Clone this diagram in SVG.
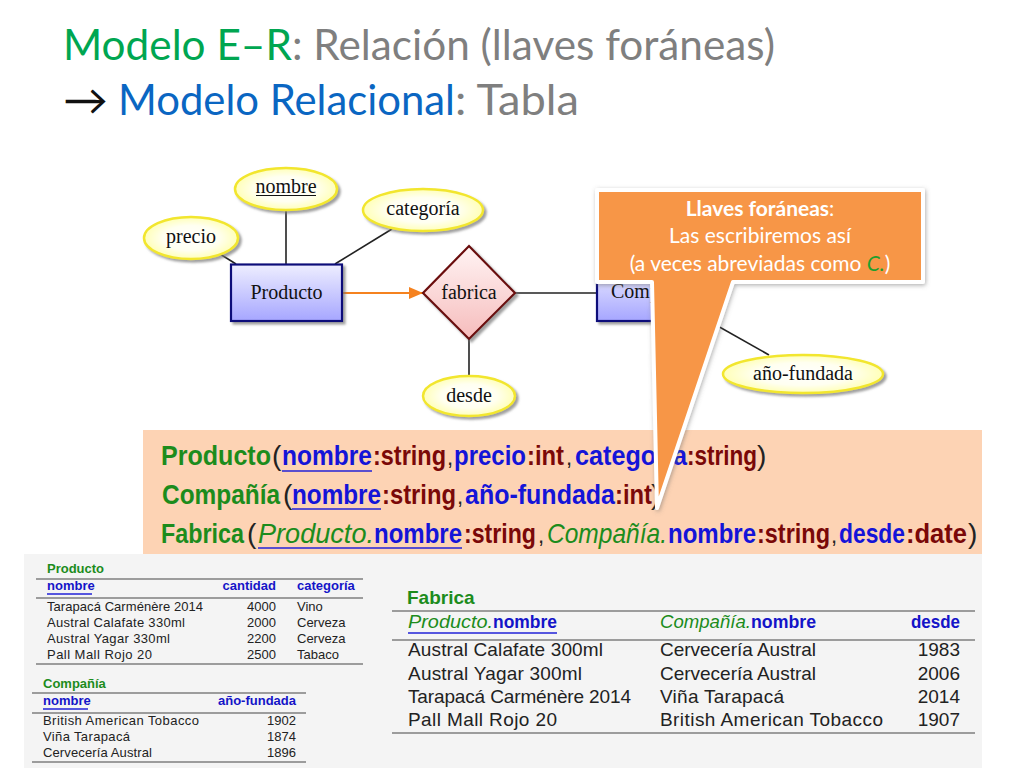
<svg xmlns="http://www.w3.org/2000/svg" width="1024" height="768" viewBox="0 0 1024 768">
<style>
text{font-family:"Liberation Sans",Arial,sans-serif}
.t{font-family:Lato,"Noto Sans",sans-serif;font-size:42px}
.cm{font-family:"Liberation Serif","Times New Roman",serif;fill:#111;text-anchor:middle;font-size:20px}
.attr{fill:url(#ey);stroke:#f2e62e;stroke-width:2.5;filter:url(#sh)}
.ln{stroke:#222;stroke-width:1.6;fill:none}
.g{fill:#1c8c1c}.gi{fill:#1c8c1c;font-style:italic}.b{fill:#1414d8;font-weight:bold}.r{fill:#7a0808;font-weight:bold}.k{fill:#222}
.p{font-size:28px}.par{font-size:28px}.cma{font-size:22px}
.ttl{fill:#1c8c1c;font-weight:bold}.hd{fill:#1414c8;font-weight:bold}.row{fill:#222}
.s{font-size:13px}.s2{font-size:19px}
.rule{stroke:#444;stroke-width:1.2}.ul{stroke:#2222d8;stroke-width:1.3}
.end{text-anchor:end}
.c{font-family:Lato,"Noto Sans",sans-serif;font-size:21px;fill:#fff;text-anchor:middle}
</style>
<defs>
<radialGradient id="ey"><stop offset="0" stop-color="#fff"/><stop offset="0.6" stop-color="#fffff0"/><stop offset="1" stop-color="#ffffb8"/></radialGradient>
<linearGradient id="bl" x1="0" y1="0" x2="0" y2="1"><stop offset="0" stop-color="#eeeeff"/><stop offset="1" stop-color="#a6a6ff"/></linearGradient>
<linearGradient id="rd" x1="0" y1="0" x2="0" y2="1"><stop offset="0" stop-color="#fff4f4"/><stop offset="1" stop-color="#f6bcbc"/></linearGradient>
<filter id="sh" x="-20%" y="-20%" width="150%" height="150%"><feDropShadow dx="2.5" dy="2.5" stdDeviation="1.2" flood-color="#777" flood-opacity="0.7"/></filter>
<filter id="cs" x="-10%" y="-10%" width="120%" height="120%"><feDropShadow dx="1" dy="1.5" stdDeviation="2" flood-color="#666" flood-opacity="0.5"/></filter>
<marker id="ah" markerUnits="userSpaceOnUse" markerWidth="14" markerHeight="14" refX="14" refY="7" orient="auto"><path d="M0 1L14 7L0 13Z" fill="#f5821f"/></marker>
</defs>
<rect width="1024" height="768" fill="#fff"/>
<text class="t" x="63" y="60" textLength="712" lengthAdjust="spacingAndGlyphs"><tspan fill="#00a651">Modelo E–R</tspan><tspan fill="#7f7f7f">: Relación (llaves foráneas)</tspan></text>
<text class="t" y="115"><tspan fill="#111" x="63" textLength="45" lengthAdjust="spacingAndGlyphs">→</tspan><tspan fill="#0a66c2" x="118" textLength="337" lengthAdjust="spacingAndGlyphs">Modelo Relacional</tspan><tspan fill="#7f7f7f" x="455" textLength="124" lengthAdjust="spacingAndGlyphs">: Tabla</tspan></text>

<g id="connectors">
<line class="ln" x1="220" y1="254" x2="236" y2="264"/>
<line class="ln" x1="286" y1="209" x2="286" y2="264"/>
<line class="ln" x1="392" y1="229" x2="335" y2="264"/>
<line x1="342" y1="293" x2="423" y2="293" stroke="#f5821f" stroke-width="1.8" marker-end="url(#ah)"/>
<line class="ln" x1="515" y1="293" x2="597" y2="293"/>
<line class="ln" x1="469" y1="339" x2="469" y2="377"/>
<line class="ln" x1="700" y1="316" x2="769" y2="355"/>
</g>
<g id="precio"><ellipse class="attr" cx="191" cy="238" rx="47" ry="21"/><text class="cm" x="191" y="243">precio</text></g>
<g id="nombre"><ellipse class="attr" cx="286" cy="189" rx="51" ry="21"/><text class="cm" x="286" y="193">nombre</text><line x1="256" y1="195.500" x2="316" y2="195.500" stroke="#111"/></g>
<g id="categoria"><ellipse class="attr" cx="423" cy="210" rx="60" ry="21"/><text class="cm" x="423" y="215">categoría</text></g>
<g id="producto"><rect x="231" y="264.500" width="111" height="56.500" fill="url(#bl)" stroke="#10107a" stroke-width="2.200" filter="url(#sh)"/><text class="cm" x="286.500" y="299">Producto</text></g>
<g id="fabrica"><path d="M469 246L515 293L469 339L423 293Z" fill="url(#rd)" stroke="#6a0c0c" stroke-width="2.200" filter="url(#sh)"/><text class="cm" x="469" y="299">fabrica</text></g>
<g id="desde"><ellipse class="attr" cx="469" cy="396" rx="46" ry="20"/><text class="cm" x="469" y="402">desde</text></g>
<g id="compania"><rect x="597" y="264.500" width="111" height="56.500" fill="url(#bl)" stroke="#10107a" stroke-width="2.200" filter="url(#sh)"/><text class="cm" x="611" y="298" style="text-anchor:start">Compañía</text></g>
<g id="ano-fundada"><ellipse class="attr" cx="803" cy="374" rx="80" ry="19"/><text class="cm" x="803" y="380">año-fundada</text></g>

<g id="relations">
<rect x="143" y="430" width="839" height="124" fill="#fdd3b4"/>
<text class="p" y="465"><tspan class="g" font-weight="bold" x="161" textLength="110" lengthAdjust="spacingAndGlyphs">Producto</tspan><tspan class="k par" x="272">(</tspan><tspan class="b" x="282" textLength="90" lengthAdjust="spacingAndGlyphs">nombre</tspan><tspan class="r" x="373" textLength="73" lengthAdjust="spacingAndGlyphs">:string</tspan><tspan class="k cma" x="447">,</tspan><tspan class="b" x="454" textLength="72" lengthAdjust="spacingAndGlyphs">precio</tspan><tspan class="r" x="527" textLength="37" lengthAdjust="spacingAndGlyphs">:int</tspan><tspan class="k cma" x="566">,</tspan><tspan class="b" x="575" textLength="112" lengthAdjust="spacingAndGlyphs">categoría</tspan><tspan class="r" x="687" textLength="70" lengthAdjust="spacingAndGlyphs">:string</tspan><tspan class="k par" x="757">)</tspan></text>
<line class="ul" x1="282" y1="471" x2="372" y2="471"/>
<text class="p" y="504"><tspan class="g" font-weight="bold" x="162" textLength="118" lengthAdjust="spacingAndGlyphs">Compañía</tspan><tspan class="k par" x="283">(</tspan><tspan class="b" x="292" textLength="89" lengthAdjust="spacingAndGlyphs">nombre</tspan><tspan class="r" x="382" textLength="74" lengthAdjust="spacingAndGlyphs">:string</tspan><tspan class="k cma" x="457">,</tspan><tspan class="b" x="465" textLength="150" lengthAdjust="spacingAndGlyphs">año-fundada</tspan><tspan class="r" x="615" textLength="37" lengthAdjust="spacingAndGlyphs">:int</tspan><tspan class="k par" x="651">)</tspan></text>
<line class="ul" x1="292" y1="509" x2="381" y2="509"/>
<text class="p" y="543"><tspan class="g" font-weight="bold" x="161" textLength="83" lengthAdjust="spacingAndGlyphs">Fabrica</tspan><tspan class="k par" x="247">(</tspan><tspan class="gi" x="258" textLength="116" lengthAdjust="spacingAndGlyphs">Producto.</tspan><tspan class="b" x="374" textLength="88" lengthAdjust="spacingAndGlyphs">nombre</tspan><tspan class="r" x="464" textLength="72" lengthAdjust="spacingAndGlyphs">:string</tspan><tspan class="k cma" x="538">,</tspan><tspan class="gi" x="547" textLength="120" lengthAdjust="spacingAndGlyphs">Compañía.</tspan><tspan class="b" x="668" textLength="88" lengthAdjust="spacingAndGlyphs">nombre</tspan><tspan class="r" x="757" textLength="73" lengthAdjust="spacingAndGlyphs">:string</tspan><tspan class="k cma" x="831">,</tspan><tspan class="b" x="839" textLength="66" lengthAdjust="spacingAndGlyphs">desde</tspan><tspan class="r" x="906" textLength="61" lengthAdjust="spacingAndGlyphs">:date</tspan><tspan class="k par" x="968">)</tspan></text>
<line class="ul" x1="258" y1="548" x2="462" y2="548"/>
</g>

<g id="tables">
<rect x="24" y="554" width="958" height="214" fill="#f4f4f4"/>
<g id="tabla-producto">
<text class="ttl s" x="47" y="573">Producto</text>
<line class="rule" x1="36" y1="579" x2="363" y2="579"/>
<text class="hd s" x="47" y="590">nombre</text><text class="hd s end" x="276" y="590">cantidad</text><text class="hd s" x="297" y="590">categoría</text>
<line class="ul" x1="47" y1="594" x2="92" y2="594"/>
<line class="rule" x1="36" y1="598" x2="363" y2="598"/>
<text class="row s" x="47" y="611" textLength="156">Tarapacá Carménère 2014</text><text class="row s end" x="276" y="611">4000</text><text class="row s" x="297" y="611">Vino</text>
<text class="row s" x="47" y="627" textLength="138">Austral Calafate 330ml</text><text class="row s end" x="276" y="627">2000</text><text class="row s" x="297" y="627">Cerveza</text>
<text class="row s" x="47" y="643" textLength="123">Austral Yagar 330ml</text><text class="row s end" x="276" y="643">2200</text><text class="row s" x="297" y="643">Cerveza</text>
<text class="row s" x="47" y="659" textLength="105">Pall Mall Rojo 20</text><text class="row s end" x="276" y="659">2500</text><text class="row s" x="297" y="659">Tabaco</text>
<line class="rule" x1="36" y1="664" x2="363" y2="664"/>
</g>
<g id="tabla-compania">
<text class="ttl s" x="43" y="688">Compañía</text>
<line class="rule" x1="32" y1="693" x2="306" y2="693"/>
<text class="hd s" x="43" y="705">nombre</text><text class="hd s end" x="296" y="705">año-fundada</text>
<line class="ul" x1="43" y1="709" x2="88" y2="709"/>
<line class="rule" x1="32" y1="713" x2="306" y2="713"/>
<text class="row s" x="43" y="725" textLength="156">British American Tobacco</text><text class="row s end" x="296" y="725">1902</text>
<text class="row s" x="43" y="741" textLength="87">Viña Tarapacá</text><text class="row s end" x="296" y="741">1874</text>
<text class="row s" x="43" y="757" textLength="109">Cervecería Austral</text><text class="row s end" x="296" y="757">1896</text>
<line class="rule" x1="32" y1="762" x2="306" y2="762"/>
</g>
<g id="tabla-fabrica">
<text class="ttl s2" x="407" y="604">Fabrica</text>
<line class="rule" x1="392" y1="611" x2="975" y2="611"/>
<text class="s2" y="628"><tspan class="gi" x="408" textLength="85" lengthAdjust="spacingAndGlyphs">Producto.</tspan><tspan class="hd" x="493" textLength="64" lengthAdjust="spacingAndGlyphs">nombre</tspan></text>
<text class="s2" y="628"><tspan class="gi" x="660" textLength="91" lengthAdjust="spacingAndGlyphs">Compañía.</tspan><tspan class="hd" x="751" textLength="65" lengthAdjust="spacingAndGlyphs">nombre</tspan></text>
<text class="hd s2 end" x="960" y="628" textLength="49" lengthAdjust="spacingAndGlyphs">desde</text>
<line class="ul" x1="408" y1="633" x2="557" y2="633"/>
<line class="rule" x1="392" y1="640" x2="975" y2="640"/>
<text class="row s2" x="408" y="656" textLength="195">Austral Calafate 300ml</text><text class="row s2" x="660" y="656" textLength="156">Cervecería Austral</text><text class="row s2 end" x="960" y="656">1983</text>
<text class="row s2" x="408" y="680" textLength="174">Austral Yagar 300ml</text><text class="row s2" x="660" y="680" textLength="156">Cervecería Austral</text><text class="row s2 end" x="960" y="680">2006</text>
<text class="row s2" x="408" y="703" textLength="223">Tarapacá Carménère 2014</text><text class="row s2" x="660" y="703" textLength="124">Viña Tarapacá</text><text class="row s2 end" x="960" y="703">2014</text>
<text class="row s2" x="408" y="726" textLength="149">Pall Mall Rojo 20</text><text class="row s2" x="660" y="726" textLength="223">British American Tobacco</text><text class="row s2 end" x="960" y="726">1907</text>
<line class="rule" x1="392" y1="733" x2="975" y2="733"/>
</g>
</g>

<g id="callout">
<path d="M597 190H923V282H733L657 508L652 282H597Z" fill="#f79646" stroke="#fff" stroke-width="4" stroke-linejoin="round" filter="url(#cs)"/>
<text class="c" x="760" y="216"><tspan font-weight="bold">Llaves foráneas</tspan>:</text>
<text class="c" x="760" y="243">Las escribiremos así</text>
<text class="c" x="760" y="271">(a veces abreviadas como <tspan fill="#1f9e2e" font-style="italic">C.</tspan>)</text>
</g>
</svg>
